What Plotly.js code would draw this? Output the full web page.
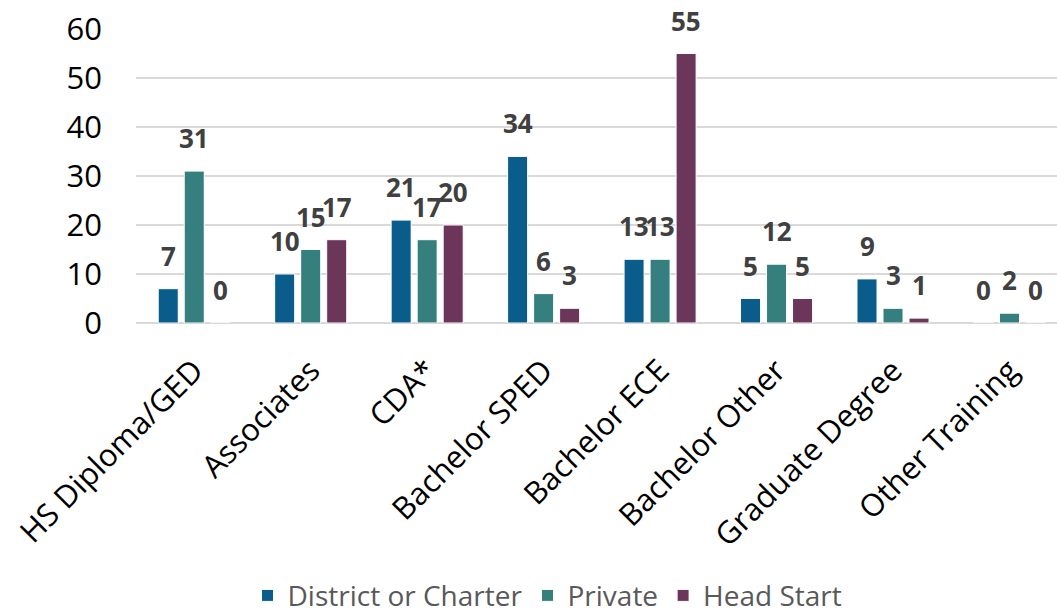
<!DOCTYPE html>
<html>
<head>
<meta charset="utf-8">
<script src="https://cdn.plot.ly/plotly-3.0.1.min.js"></script>
<style>
  html, body { margin: 0; padding: 0; background: #ffffff; overflow: hidden; }
  #chart { width: 1057px; height: 613px; }
</style>
</head>
<body>
<div id="chart"></div>
<script>
const categories = ["HS Diploma/GED", "Associates", "CDA*", "Bachelor SPED", "Bachelor ECE", "Bachelor Other", "Graduate Degree", "Other Training"];
const seriesNames = ["District or Charter", "Private", "Head Start"];
const districtValues = [7, 10, 21, 34, 13, 5, 9, 0];
const privateValues = [31, 15, 17, 6, 13, 12, 3, 2];
const headStartValues = [0, 17, 20, 3, 55, 5, 1, 0];
const seriesColors = ["#0a5c8a", "#367f7f", "#6b3659"];
const yTickValues = [0, 10, 20, 30, 40, 50, 60];

const allValues = [districtValues, privateValues, headStartValues];

const traces = allValues.map((vals, i) => ({
  type: "bar",
  name: seriesNames[i],
  x: categories,
  y: vals,
  marker: { color: seriesColors[i], line: { color: "#ffffff", width: 1 } },
  hoverinfo: "x+y+name"
}));

const slotPx = 26;
const annotations = [];
allValues.forEach((vals, i) => {
  vals.forEach((v, j) => {
    annotations.push({
      x: categories[j], y: v, xref: "x", yref: "y",
      text: String(v), showarrow: false,
      xanchor: "center", yanchor: "bottom",
      xshift: (i - 1) * slotPx, yshift: 13,
      font: { family: "Open Sans", size: 26, color: "#404040", weight: 700 }
    });
  });
});

const layout = {
  width: 1057, height: 613,
  margin: { l: 136, r: 0, t: 29, b: 290 },
  paper_bgcolor: "#ffffff", plot_bgcolor: "#ffffff",
  barmode: "group", bargap: 0.33, bargroupgap: 0.23,
  showlegend: true,
  legend: {
    orientation: "h", xref: "container", yref: "container",
    x: 0.518, xanchor: "center", y: 0.069, yanchor: "top",
    font: { family: "Open Sans", size: 28, color: "#595959" },
    itemclick: false, itemdoubleclick: false
  },
  xaxis: {
    type: "category", range: [-0.5, 7.408],
    tickangle: -45, showgrid: false, zeroline: false, showline: false,
    ticks: "outside", ticklen: 16, tickcolor: "rgba(0,0,0,0)",
    tickfont: { family: "Open Sans", size: 31, color: "#000000" },
    fixedrange: true
  },
  yaxis: {
    range: [0, 60], tickvals: yTickValues,
    showgrid: true, gridcolor: "#d9d9d9", gridwidth: 1.5,
    zeroline: true, zerolinecolor: "#d9d9d9", zerolinewidth: 1.5,
    showline: false, ticks: "", ticklabelstandoff: 33,
    tickfont: { family: "Open Sans", size: 31, color: "#000000" },
    fixedrange: true
  },
  annotations: annotations
};

Plotly.newPlot("chart", traces, layout, { displayModeBar: false, staticPlot: true });
</script>
</body>
</html>
